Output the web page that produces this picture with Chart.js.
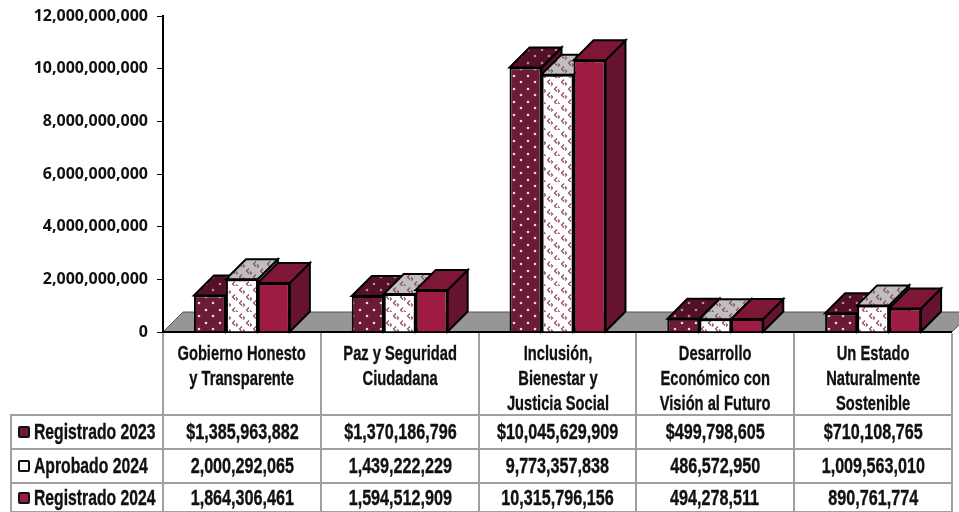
<!DOCTYPE html>
<html><head><meta charset="utf-8">
<script src="https://cdn.jsdelivr.net/npm/chart.js@4/dist/chart.umd.min.js"></script>
<style>
html,body{margin:0;padding:0;background:#fff;width:959px;height:512px;overflow:hidden}
#wrap{position:relative;width:959px;height:512px}
canvas{position:absolute;left:0;top:0}
.cell{position:absolute;box-sizing:border-box;border:2px solid #a0a0a0;background:transparent;color:#111;
 font-family:"Liberation Sans",sans-serif;font-weight:700;display:flex;align-items:center;justify-content:center;text-align:center;white-space:pre-line;overflow:hidden;-webkit-text-stroke:.35px #111}
.cell span.t{display:inline-block;white-space:pre-line;flex:none}
.cat{border-top:none;font-size:21px;line-height:25px;align-items:flex-start;padding-top:7px}
.cat span.t{transform:scaleX(.70)}
.val{font-size:22px}
.val span.t{transform:scaleX(.735)}
.leg{justify-content:flex-start;padding-left:6px;font-size:22px}
.leg span.t{transform:scaleX(.715);transform-origin:left center}
.key{display:inline-block;flex:none;width:12px;height:12px;border:2px solid #111;border-radius:2px;margin-right:4px;box-sizing:border-box}
</style></head><body>
<div id="wrap"><canvas id="c" width="959" height="512"></canvas><div id="tbl"></div></div>
<script>
const categories=[["Gobierno Honesto","y Transparente"],["Paz y Seguridad","Ciudadana"],["Inclusión,","Bienestar y","Justicia Social"],["Desarrollo","Económico con","Visión al Futuro"],["Un Estado","Naturalmente","Sostenible"]];
const seriesNames=["Registrado 2023","Aprobado 2024","Registrado 2024"];
const registrado2023=[1385963882,1370186796,10045629909,499798605,710108765];
const aprobado2024=[2000292065,1439222229,9773357838,486572950,1009563010];
const registrado2024=[1864306461,1594512909,10315796156,494278511,890761774];
const tableRows=[
 ["$1,385,963,882","$1,370,186,796","$10,045,629,909","$499,798,605","$710,108,765"],
 ["2,000,292,065","1,439,222,229","9,773,357,838","486,572,950","1,009,563,010"],
 ["1,864,306,461","1,594,512,909","10,315,796,156","494,278,511","890,761,774"]];

function tile(w,h,bg,fn){const c=document.createElement('canvas');c.width=w;c.height=h;const x=c.getContext('2d');x.fillStyle=bg;x.fillRect(0,0,w,h);fn(x);return x.createPattern(c,'repeat');}
function dots(bg,col){return tile(14,26,bg,x=>{x.fillStyle=col;for(const[a,b]of[[3,4],[10,11],[3,17],[10,24]]){x.beginPath();x.arc(a,b,1.3,0,7);x.fill();}});}
function chev(bg,col){return tile(14,26,bg,x=>{x.strokeStyle=col;x.lineWidth=1.2;
 for(const[a,b]of[[4,4],[11,11],[4,17],[11,24]]){
  x.beginPath();x.moveTo(a,b-2.5);x.lineTo(a-2.5,b);x.lineTo(a,b+2.5);x.stroke();
  x.beginPath();x.moveTo(a+1,b+.5);x.lineTo(a+2.5,b+2);x.lineTo(a+1,b+3.5);x.stroke();}});}
const faces=[
 {front:dots('#6b1a38','#f0d8e0'),top:dots('#541029','#b98a9c'),side:'#4e0f27'},
 {front:chev('#ffffff','#8f4a63'),top:chev('#bfbfbf','#8f4a63'),side:'#8a8a8a'},
 {front:'#9e1c42',top:'#7d1735',side:'#651330'}];
const DEPTH=20;
function poly(ctx,pts,fill){ctx.beginPath();pts.forEach((p,i)=>i?ctx.lineTo(p[0],p[1]):ctx.moveTo(p[0],p[1]));ctx.closePath();ctx.fillStyle=fill;ctx.fill();ctx.stroke();}
const depthPlugin={id:'depth',beforeDatasetsDraw(ch){const a=ch.chartArea,c=ch.ctx,d=DEPTH;c.save();c.strokeStyle='#555';c.lineWidth=1;
 poly(c,[[a.left,a.bottom],[a.left+d,a.bottom-20],[a.right+d,a.bottom-20],[a.right,a.bottom]],'#969696');
 c.strokeStyle='#000';c.lineWidth=2;c.beginPath();c.moveTo(a.left,a.bottom);c.lineTo(a.right,a.bottom);c.stroke();
 c.lineJoin='miter';
 ch.data.datasets.forEach((ds,i)=>{const f=faces[i];
  ch.getDatasetMeta(i).data.forEach(el=>{const l=el.x-el.width/2,r=el.x+el.width/2,t=el.y,b=el.base;
   poly(c,[[r,t],[r+d,t-d],[r+d,b-d],[r,b]],f.side);
   poly(c,[[l,t],[l+d,t-d],[r+d,t-d],[r,t]],f.top);});});
 c.restore();}};
const data={labels:categories,datasets:[registrado2023,aprobado2024,registrado2024].map((v,i)=>({label:seriesNames[i],data:v,backgroundColor:faces[i].front,borderColor:'#000',borderWidth:2,categoryPercentage:.608,barPercentage:1}))};
new Chart(document.getElementById('c'),{type:'bar',data,plugins:[depthPlugin],options:{responsive:false,animation:false,
 layout:{padding:{top:16,bottom:180,right:7,left:0}},
 plugins:{legend:{display:false},tooltip:{enabled:false}},
 scales:{
  x:{display:false},
  y:{min:0,max:12000000000,afterFit(s){s.width=163;s.paddingTop=0;s.paddingBottom=0;},
   ticks:{stepSize:2000000000,color:'#111',padding:9,font:{family:'"Open Sans",sans-serif',weight:'700',size:16,lineHeight:1},callback:v=>v.toLocaleString('en-US')},
   grid:{drawOnChartArea:false,drawTicks:true,tickLength:6,color:'#000'},border:{color:'#000',width:2}}}}});

const tbl=document.getElementById('tbl');
const colX=[162,320,478,635,793,951],rowY=[414,448,482,511];
function cell(cls,x,y,w,h,txt){const d=document.createElement('div');d.className='cell '+cls;d.style.cssText+=`left:${x}px;top:${y}px;width:${w}px;height:${h}px`;if(txt){const s=document.createElement('span');s.className='t';s.textContent=txt;d.appendChild(s);}tbl.appendChild(d);return d;}
categories.forEach((c,i)=>cell('cat',colX[i],333,colX[i+1]-colX[i]+2,83,c.join('\n')));
const keyBg=['#6b1a38','#fff','#9e1c42'];
seriesNames.forEach((n,r)=>{const d=cell('leg',10,rowY[r],154,rowY[r+1]-rowY[r]+2);
 const k=document.createElement('span');k.className='key';k.style.background=keyBg[r];d.appendChild(k);
 const s=document.createElement('span');s.className='t';s.textContent=n;d.appendChild(s);
 tableRows[r].forEach((t,i)=>cell('val',colX[i],rowY[r],colX[i+1]-colX[i]+2,rowY[r+1]-rowY[r]+2,t));});
</script></body></html>
